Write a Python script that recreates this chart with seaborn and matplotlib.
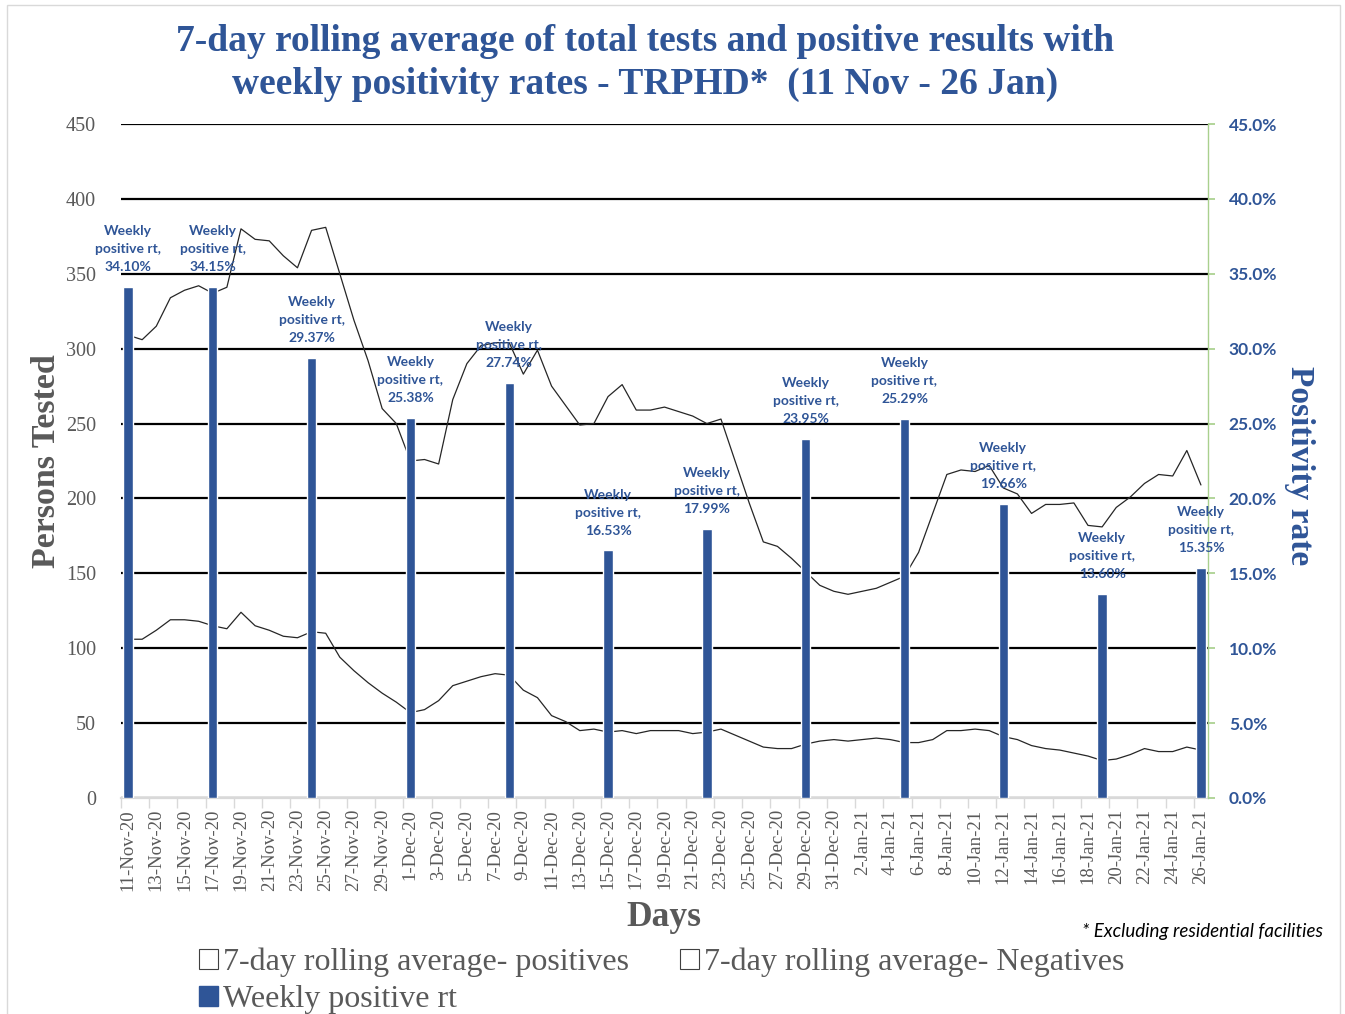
import numpy as np
import pandas as pd
import matplotlib
matplotlib.use("Agg")
import matplotlib.pyplot as plt
import seaborn as sns
from matplotlib.patches import Patch, Rectangle

# 7-day rolling averages, one value per day 11-Nov-20 .. 26-Jan-21
days = pd.date_range("2020-11-11", "2021-01-26", freq="D")
total_avg = [309, 306, 315, 334, 339, 342, 337, 341, 380, 373, 372, 362, 354, 379, 381,
             350, 319, 292, 260, 250, 225, 226, 223, 266, 290, 302, 304, 304, 283, 299,
             275, 262, 249, 250, 268, 276, 259, 259, 261, 258, 255, 250, 253, 225, 197,
             171, 168, 160, 151, 142, 138, 136, 138, 140, 144, 148, 164, 190, 216, 219,
             218, 222, 207, 203, 190, 196, 196, 197, 182, 181, 194, 201, 210, 216, 215,
             232, 209]
pos_avg = [106, 106, 112, 119, 119, 118, 115, 113, 124, 115, 112, 108, 107, 111, 110,
           94, 85, 77, 70, 64, 57, 59, 65, 75, 78, 81, 83, 82, 72, 67,
           55, 51, 45, 46, 44, 45, 43, 45, 45, 45, 43, 44, 46, 42, 38,
           34, 33, 33, 36, 38, 39, 38, 39, 40, 39, 37, 37, 39, 45, 45,
           46, 45, 41, 39, 35, 33, 32, 30, 28, 25, 26, 29, 33, 31, 31,
           34, 32]

# weekly positivity rate (%)
week_dates = ["2020-11-11", "2020-11-17", "2020-11-24", "2020-12-01", "2020-12-08",
              "2020-12-15", "2020-12-22", "2020-12-29", "2021-01-05", "2021-01-12",
              "2021-01-19", "2021-01-26"]
week_rate = [34.10, 34.15, 29.37, 25.38, 27.74, 16.53, 17.99, 23.95, 25.29, 19.66,
             13.60, 15.35]

tick_labels = [f"{d.day}-{d.strftime('%b-%y')}" for d in days]

BLUE = "#2F5597"
GREY = "#595959"
SERIF = ["Liberation Serif", "DejaVu Serif"]
SANS = ["Lato", "DejaVu Sans"]
W, H = 1345, 1014

sns.set_theme(style="white")
plt.rcParams["font.family"] = SERIF

df = pd.DataFrame({"day": np.arange(len(days)), "total": total_avg, "pos": pos_avg})
week_idx = [days.get_loc(pd.Timestamp(d)) for d in week_dates]

fig = plt.figure(figsize=(W / 100, H / 100), dpi=100)
ax = fig.add_axes([121 / W, 1 - 798 / H, (1208 - 121) / W, (798 - 124) / H])

sns.lineplot(data=df, x="day", y="total", ax=ax, color="#262626", lw=0.9)
sns.lineplot(data=df, x="day", y="pos", ax=ax, color="#262626", lw=0.9)

ax.set_xlim(-0.5, len(days) - 0.5)
ax.set_ylim(0, 450)
ax.set_yticks(np.arange(0, 451, 50))
ax.yaxis.grid(True, color="black", lw=1.6)
ax.xaxis.grid(False)
ax.tick_params(axis="y", length=0, labelsize=14.5, labelcolor=GREY, pad=18)
ax.set_xticks(np.arange(0, len(days), 2))
ax.set_xticklabels(tick_labels[::2], rotation=90, fontsize=13.5, color=GREY)
ax.set_xticks(np.arange(-0.5, len(days), 2), minor=True)
ax.tick_params(axis="x", which="major", length=0, pad=8)
ax.tick_params(axis="x", which="minor", length=7, color="#D9D9D9", width=1, bottom=True)
for s in ["left", "top", "right"]:
    ax.spines[s].set_visible(False)
ax.spines["bottom"].set_color("#D9D9D9")
ax.spines["bottom"].set_linewidth(1.6)
ax.spines["bottom"].set_zorder(3)
ax.set_xlabel("")
ax.set_ylabel("")

ax2 = ax.twinx()
ax2.bar(week_idx, week_rate, width=0.66, color=BLUE, zorder=3)
ax2.set_ylim(0, 45)
ax2.set_yticks(np.arange(0, 46, 5))
ax2.set_yticklabels([f"{v:.1f}%" for v in np.arange(0, 46, 5)], family=SANS,
                    fontweight="bold", fontsize=12.5, color=BLUE)
ax2.tick_params(axis="y", length=5, color="#A9D08E", pad=10)
for s in ["left", "top", "bottom"]:
    ax2.spines[s].set_visible(False)
ax2.spines["right"].set_color("#A9D08E")
ax2.spines["right"].set_linewidth(1)
ax2.grid(False)

for d, r in zip(week_idx, week_rate):
    ax2.annotate(f"Weekly\npositive rt,\n{r:.2f}%", xy=(d, r), xytext=(0, 10),
                 textcoords="offset points", ha="center", va="bottom",
                 family=SANS, fontweight="bold", fontsize=10, color=BLUE,
                 linespacing=1.6)

# axis titles
fig.text(47 / W, 1 - 461 / H, "Persons Tested", rotation=90, ha="center", va="center",
         fontsize=24.5, fontweight="bold", color=GREY)
fig.text(1300 / W, 1 - 466 / H, "Positivity rate", rotation=270, ha="center",
         va="center", fontsize=24, fontweight="bold", color=BLUE)
fig.text(664 / W, 1 - 918 / H, "Days", ha="center", va="center",
         fontsize=25.5, fontweight="bold", color=GREY)

fig.text(645 / W, 1 - 63 / H,
         "7-day rolling average of total tests and positive results with\n"
         "weekly positivity rates - TRPHD*  (11 Nov - 26 Jan)",
         ha="center", va="center", fontsize=27, fontweight="bold", color=BLUE,
         linespacing=1.28)

fig.text(1323 / W, 1 - 932 / H, "* Excluding residential facilities",
         ha="right", va="center", family=SANS, style="italic", fontsize=13.5,
         color="black")

h_pos = Patch(facecolor="white", edgecolor="#404040", lw=0.8,
              label="7-day rolling average- positives")
h_neg = Patch(facecolor="white", edgecolor="#404040", lw=0.8,
              label="7-day rolling average- Negatives")
h_rate = Patch(facecolor=BLUE, edgecolor=BLUE, label="Weekly positive rt")
fig.legend(handles=[h_pos, h_rate, h_neg], ncol=2, loc="upper left",
           bbox_to_anchor=(186 / W, 1 - 935 / H), frameon=False,
           prop={"family": SERIF, "size": 23}, labelcolor=GREY,
           handlelength=0.6, handleheight=0.6, handletextpad=0.15,
           columnspacing=1.6, labelspacing=0.25, borderaxespad=0)

fig.add_artist(Rectangle((7 / W, -0.01), (1340 - 7) / W, 1 - 5 / H + 0.01,
                         transform=fig.transFigure, fill=False,
                         edgecolor="#D9D9D9", lw=1))

fig.savefig("out.png", dpi=100)
